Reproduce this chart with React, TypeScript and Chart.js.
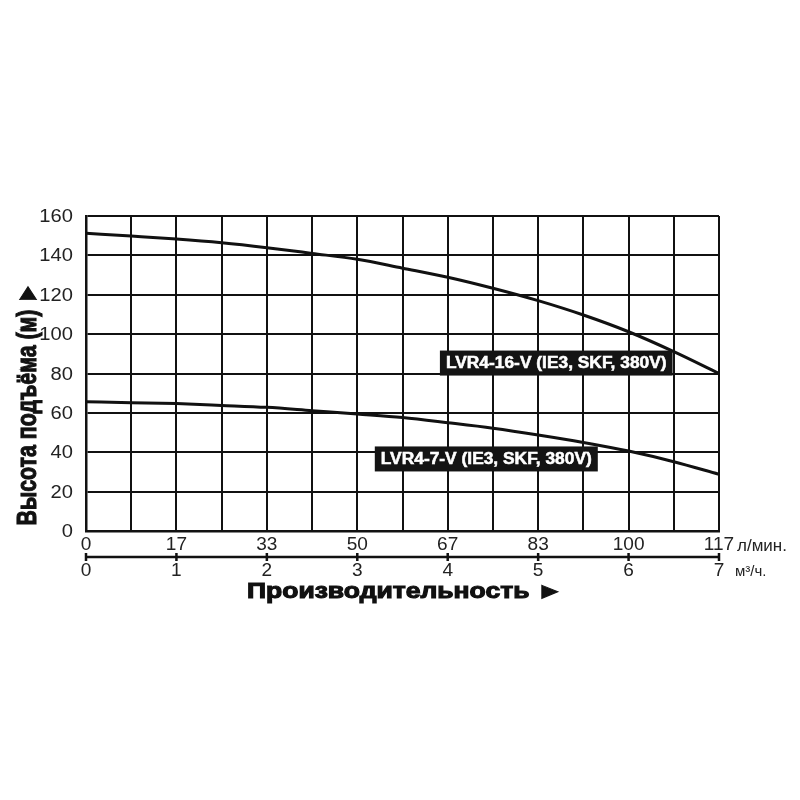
import React, { useEffect, useRef } from 'react';
import { Chart, registerables } from 'chart.js';

Chart.register(...registerables);

// Flow rate sample points (m³/h)
const flowM3h = [0, 0.5, 1, 1.5, 2, 2.5, 3, 3.5, 4, 4.5, 5, 5.5, 6, 6.5, 7];
// Head (m) for each pump
const headLVR4_16 = [151.2, 149.8, 148.3, 146.4, 143.9, 141, 138, 133.5, 128.9, 123.3, 117, 109.7, 101.2, 91.1, 80];
const headLVR4_7 = [65.7, 65.2, 64.7, 63.8, 62.8, 61.1, 59.4, 57.6, 55, 52.2, 48.8, 45, 40.6, 35.2, 28.8];
const seriesNames = ['LVR4-16-V (IE3, SKF, 380V)', 'LVR4-7-V (IE3, SKF, 380V)'];
// Tag anchors in data units (text start flow, tag centre head)
const tagFlow = [3.98, 3.26];
const tagHead = [85.3, 36.6];
// Axis labels
const headTicks = [0, 20, 40, 60, 80, 100, 120, 140, 160];
const flowTicksM3h = [0, 1, 2, 3, 4, 5, 6, 7];
const flowTicksLpm = ['0', '17', '33', '50', '67', '83', '100', '117'];
const unitLpm = 'л/мин.';
const unitM3h = 'м³/ч.';
const xTitle = 'Производительность ►';
const yTitle = 'Высота подъёма (м) ►';

const FONT = "'Liberation Sans', Arial, 'DejaVu Sans', sans-serif";

const overlay = {
  id: 'overlay',
  afterDraw(chart: any) {
    const ctx = chart.ctx as CanvasRenderingContext2D;
    const area = chart.chartArea;
    const xs = chart.scales.x;
    const ys = chart.scales.y;
    ctx.save();

    // Series tags
    ctx.font = `bold 15px ${FONT}`;
    const refW = ctx.measureText(seriesNames[1]).width;
    const sx = 211 / refW;
    seriesNames.forEach((name, i) => {
      const tx = xs.getPixelForValue(tagFlow[i]);
      const cy = ys.getPixelForValue(tagHead[i]);
      const w = ctx.measureText(name).width * sx;
      ctx.fillStyle = '#141414';
      ctx.fillRect(tx - 6, cy - 12.5, w + 12, 25);
      ctx.save();
      ctx.translate(tx, cy + 1);
      ctx.scale(sx, 1.05);
      ctx.fillStyle = '#ffffff';
      ctx.strokeStyle = '#ffffff';
      ctx.lineWidth = 0.5;
      ctx.textAlign = 'left';
      ctx.textBaseline = 'middle';
      ctx.fillText(name, 0, 0);
      ctx.strokeText(name, 0, 0);
      ctx.restore();
    });

    // Y tick labels
    ctx.fillStyle = '#222';
    ctx.font = `18px ${FONT}`;
    ctx.textAlign = 'right';
    ctx.textBaseline = 'middle';
    headTicks.forEach((v) => {
      const py = ys.getPixelForValue(v);
      ctx.save();
      ctx.translate(area.left - 13, py + 1);
      ctx.scale(1.12, 1.02);
      ctx.fillText(String(v), 0, 0);
      ctx.restore();
    });

    // Bottom axis labels
    ctx.textAlign = 'center';
    flowTicksM3h.forEach((v, i) => {
      const px = xs.getPixelForValue(v);
      ctx.save();
      ctx.translate(px, area.bottom + 14);
      ctx.scale(1.06, 1.02);
      ctx.fillText(flowTicksLpm[i], 0, 0);
      ctx.restore();
      ctx.save();
      ctx.translate(px, area.bottom + 40);
      ctx.scale(1.06, 1.02);
      ctx.fillText(String(v), 0, 0);
      ctx.restore();
    });

    // secondary axis line with ticks
    ctx.strokeStyle = '#111';
    ctx.lineWidth = 2.5;
    ctx.beginPath();
    ctx.moveTo(area.left, area.bottom + 26);
    ctx.lineTo(area.right, area.bottom + 26);
    flowTicksM3h.forEach((v) => {
      const px = xs.getPixelForValue(v);
      ctx.moveTo(px, area.bottom + 22);
      ctx.lineTo(px, area.bottom + 30);
    });
    ctx.stroke();

    // units
    ctx.textAlign = 'left';
    ctx.font = `17px ${FONT}`;
    ctx.fillText(unitLpm, area.right + 18, area.bottom + 15);
    ctx.font = `15px ${FONT}`;
    ctx.fillText(unitM3h, area.right + 16, area.bottom + 41);

    // X title
    ctx.font = `bold 20px ${FONT}`;
    ctx.fillStyle = '#111';
    ctx.strokeStyle = '#111';
    ctx.lineWidth = 1;
    const xw = ctx.measureText(xTitle).width;
    ctx.save();
    ctx.translate(405, area.bottom + 61);
    ctx.scale(316 / xw, 1.08);
    ctx.textAlign = 'center';
    ctx.fillText(xTitle, 0, 0);
    ctx.strokeText(xTitle, 0, 0);
    ctx.restore();

    // Y title
    ctx.font = `bold 20px ${FONT}`;
    const yw = ctx.measureText(yTitle).width;
    ctx.save();
    ctx.translate(28, 404);
    ctx.rotate(-Math.PI / 2);
    ctx.scale(243 / yw, 1.4);
    ctx.textAlign = 'center';
    ctx.textBaseline = 'middle';
    ctx.lineWidth = 0.8;
    ctx.fillText(yTitle, 0, 0);
    ctx.strokeText(yTitle, 0, 0);
    ctx.restore();

    ctx.restore();
  },
};

const whiteBg = {
  id: 'whiteBg',
  beforeDraw(chart: any) {
    const ctx = chart.ctx;
    ctx.save();
    ctx.fillStyle = '#ffffff';
    ctx.fillRect(0, 0, chart.width, chart.height);
    ctx.restore();
  },
};

export default function App() {
  const ref = useRef<HTMLCanvasElement | null>(null);
  useEffect(() => {
    document.body.style.margin = '0';
    if (!ref.current) return;
    const chart = new Chart(ref.current, {
      type: 'line',
      data: {
        datasets: [
          {
            label: seriesNames[0],
            data: flowM3h.map((x, i) => ({ x, y: headLVR4_16[i] })),
            borderColor: '#111',
            borderWidth: 3,
            pointRadius: 0,
            cubicInterpolationMode: 'monotone',
          },
          {
            label: seriesNames[1],
            data: flowM3h.map((x, i) => ({ x, y: headLVR4_7[i] })),
            borderColor: '#111',
            borderWidth: 3,
            pointRadius: 0,
            cubicInterpolationMode: 'monotone',
          },
        ],
      },
      options: {
        responsive: false,
        animation: false,
        layout: { padding: { left: 0, top: 216, right: 81, bottom: 269 } },
        plugins: { legend: { display: false }, tooltip: { enabled: false } },
        scales: {
          x: {
            type: 'linear',
            min: 0,
            max: 7,
            ticks: { display: false, stepSize: 0.5 },
            grid: { color: '#111', lineWidth: 2, drawTicks: false },
            border: { color: '#111', width: 2.5 },
            afterFit: (s: any) => {
              s.height = 0;
            },
          },
          y: {
            min: 0,
            max: 160,
            ticks: { display: false, stepSize: 20 },
            grid: { color: '#111', lineWidth: 2, drawTicks: false },
            border: { color: '#111', width: 2.5 },
            afterFit: (s: any) => {
              s.width = 86;
            },
          },
        },
      } as any,
      plugins: [whiteBg, overlay],
    });
    return () => chart.destroy();
  }, []);
  return (
    <div style={{ position: 'absolute', left: 0, top: 0, width: 800, height: 800 }}>
      <canvas ref={ref} width={800} height={800} />
    </div>
  );
}
